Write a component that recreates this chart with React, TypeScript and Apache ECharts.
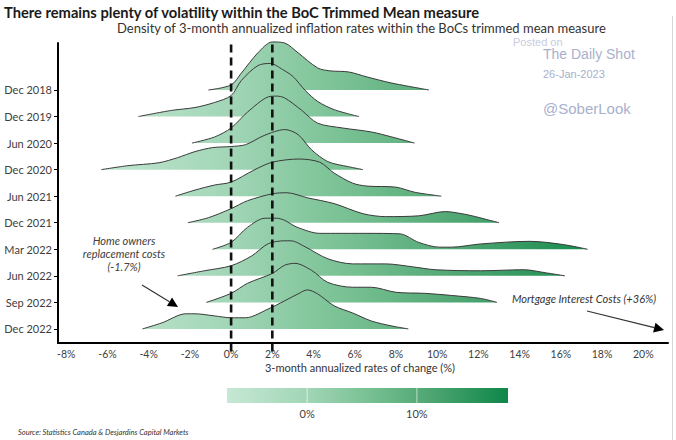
import React, { useEffect, useRef } from "react";
import * as echarts from "echarts";

// ---- Data (x = 3-month annualized rate %, d = density) ----
const ROW_LABELS = ["Dec 2018", "Dec 2019", "Jun 2020", "Dec 2020", "Jun 2021", "Dec 2021", "Mar 2022", "Jun 2022", "Sep 2022", "Dec 2022"];

const dec2018 = [[-1.1, 0], [0, 0.019], [0.5, 0.064], [1.3, 0.14], [2.0, 0.181], [2.6, 0.177], [3.25, 0.14], [4.2, 0.083], [4.8, 0.072], [5.7, 0.068], [6.6, 0.049], [7.8, 0.026], [9.6, 0]];
const dec2019 = [[-4.5, 0], [-2.9, 0.023], [-1.75, 0.034], [-0.8, 0.053], [0, 0.079], [0.5, 0.136], [1.3, 0.192], [1.9, 0.2], [2.5, 0.177], [3.0, 0.151], [3.6, 0.098], [4.2, 0.057], [5.0, 0.026], [6.2, 0]];
const jun2020 = [[-1.9, 0], [-0.8, 0.023], [0, 0.057], [0.8, 0.117], [1.8, 0.174], [2.2, 0.177], [2.6, 0.17], [3.4, 0.125], [4.2, 0.075], [5.4, 0.057], [6.8, 0.042], [7.8, 0.023], [8.9, 0]];
const dec2020 = [[-6.3, 0], [-5.0, 0.015], [-3.5, 0.026], [-2.6, 0.045], [-1.75, 0.068], [-0.9, 0.083], [0, 0.087], [0.7, 0.094], [1.5, 0.125], [2.1, 0.143], [2.6, 0.151], [3.25, 0.132], [3.9, 0.075], [4.7, 0.03], [5.7, 0.011], [6.4, 0]];
const jun2021 = [[-2.7, 0], [-1.75, 0.023], [-0.8, 0.042], [0, 0.053], [1.1, 0.098], [2.0, 0.128], [3.3, 0.14], [4.3, 0.128], [5.0, 0.087], [5.9, 0.049], [6.6, 0.038], [8.0, 0.034], [8.9, 0.015], [10.2, 0]];
const dec2021 = [[-2.1, 0], [-1.1, 0.019], [0, 0.053], [0.8, 0.083], [2.0, 0.109], [2.7, 0.113], [3.7, 0.094], [5.0, 0.072], [6.4, 0.034], [7.5, 0.023], [9.1, 0.026], [10.4, 0.042], [11.2, 0.034], [11.7, 0.026], [13.0, 0]];
const mar2022 = [[-0.9, 0], [0, 0.026], [0.8, 0.083], [1.65, 0.117], [2.2, 0.117], [2.6, 0.109], [3.2, 0.083], [4.3, 0.06], [5.0, 0.06], [6.6, 0.06], [8.2, 0.058], [9.1, 0.026], [10.1, 0.008], [10.7, 0.008], [12.1, 0.02], [14.5, 0.03], [16.1, 0.018], [17.3, 0]];
const jun2022 = [[-2.6, 0], [-1.3, 0.019], [0, 0.038], [1.0, 0.075], [1.8, 0.121], [2.6, 0.132], [2.9, 0.132], [3.6, 0.109], [4.7, 0.064], [5.9, 0.045], [7.5, 0.045], [8.8, 0.034], [9.9, 0.023], [12.1, 0.019], [14.2, 0.023], [15.3, 0.011], [16.2, 0]];
const sep2022 = [[-1.2, 0], [0, 0.034], [0.8, 0.072], [2.0, 0.109], [2.6, 0.14], [3.1, 0.147], [3.9, 0.121], [4.7, 0.075], [5.9, 0.057], [6.8, 0.057], [8.0, 0.038], [9.4, 0.034], [10.7, 0.026], [12.1, 0.015], [12.9, 0]];
const dec2022 = [[-4.3, 0], [-3.35, 0.023], [-2.2, 0.057], [-1.75, 0.057], [-0.8, 0.049], [0, 0.042], [0.7, 0.042], [1.8, 0.075], [2.6, 0.106], [3.25, 0.132], [3.7, 0.147], [4.2, 0.132], [5.0, 0.087], [5.9, 0.06], [6.8, 0.03], [7.8, 0.011], [8.6, 0]];

const ROW_DATA = [dec2018, dec2019, jun2020, dec2020, jun2021, dec2021, mar2022, jun2022, sep2022, dec2022];

const X_TICKS = [-8, -6, -4, -2, 0, 2, 4, 6, 8, 10, 12, 14, 16, 18, 20];
const REF_LINES = [0, 2];
const COLORBAR_TICKS = [0, 10];

// ---- Layout / style constants ----
const W = 676;
const H = 440;
const GRID = { left: 58, right: 8, top: 43, bottom: 97 };
const X_MIN = -8.4;
const X_MAX = 21.2;
const Y_MIN = -0.53;
const Y_MAX = 10.77;
const ROW_SCALE = 10; // rows per density unit
const CB_MIN = -7.3;
const CB_MAX = 18.3;
const CB = { x: 227, y: 388, w: 281, h: 15 };
const FONT = "Lato, 'Open Sans', sans-serif";
const WM_FONT = "'Liberation Sans', Arial, sans-serif";

const STOPS = [
  { offset: 0, color: "#c6e8d4" },
  { offset: 0.28, color: "#a2d6b7" },
  { offset: 0.5, color: "#79c194" },
  { offset: 0.72, color: "#4fa672" },
  { offset: 1, color: "#0e8749" },
];

const xPix = (v: number) => GRID.left + ((v - X_MIN) / (X_MAX - X_MIN)) * (W - GRID.left - GRID.right);
const cbPix = (v: number) => CB.x + ((v - CB_MIN) / (CB_MAX - CB_MIN)) * CB.w;

export default function App() {
  const ref = useRef<HTMLDivElement>(null);
  useEffect(() => {
    document.body.style.margin = "0";
    const chart = echarts.init(ref.current!, undefined, { renderer: "svg" });
    const n = ROW_LABELS.length;
    const fillGrad = new echarts.graphic.LinearGradient(xPix(CB_MIN), 0, xPix(CB_MAX), 0, STOPS, true);

    const ridgeSeries = ROW_DATA.map((pts, i) => {
      const base = n - 1 - i;
      return {
        type: "line",
        name: ROW_LABELS[i],
        data: pts.map(([x, d]) => [x, base + d * ROW_SCALE]),
        smooth: 0.3,
        symbol: "none",
        clip: false,
        silent: true,
        lineStyle: { color: "#3a3a3a", width: 1 },
        areaStyle: { origin: base, color: fillGrad, opacity: 1 },
        z: 2,
      };
    });

    const refSeries = REF_LINES.map((v) => ({
      type: "line",
      data: [[v, -0.85], [v, Y_MAX]],
      symbol: "none",
      clip: false,
      silent: true,
      lineStyle: { color: "#111", width: 2.6, type: [8, 5] },
      z: 5,
    }));

    const txt = (text: string, x: number, y: number, font: string, fill: string, align = "left", z = 20) => ({
      type: "text",
      x,
      y,
      z,
      silent: true,
      style: { text, font, fill, align, verticalAlign: "middle", textAlign: align, textVerticalAlign: "middle" },
    });

    const arrow = (x1: number, y1: number, x2: number, y2: number) => {
      const dx = x2 - x1, dy = y2 - y1;
      const L = Math.hypot(dx, dy);
      const ux = dx / L, uy = dy / L;
      const hl = 10, hw = 5;
      const bx = x2 - ux * hl, by = y2 - uy * hl;
      return [
        { type: "line", z: 20, silent: true, shape: { x1, y1, x2: bx, y2: by }, style: { stroke: "#333", lineWidth: 1.2 } },
        { type: "polygon", z: 20, silent: true, shape: { points: [[x2, y2], [bx - uy * hw, by + ux * hw], [bx + uy * hw, by - ux * hw]] }, style: { fill: "#000" } },
      ];
    };

    const graphic: any[] = [
      txt("Posted on", 513, 42, `11px ${WM_FONT}`, "#c8cce0", "left", 17),
      { type: "rect", z: 18, silent: true, shape: { x: 500, y: 18, width: 110, height: 19 }, style: { fill: "#fff" } },
      txt("There remains plenty of volatility within the BoC Trimmed Mean measure", 4, 12, `bold 14.7px ${FONT}`, "#1a1a1a"),
      txt("Density of 3-month annualized inflation rates within the BoCs trimmed mean measure", 117, 28, `13px ${FONT}`, "#333"),
      txt("The Daily Shot", 543, 53.5, `14px ${WM_FONT}`, "#a9b0cc"),
      txt("26-Jan-2023", 543, 74, `11px ${WM_FONT}`, "#a9b0cc"),
      txt("@SoberLook", 543, 108, `15px ${WM_FONT}`, "#a9b0cc"),
      txt("3-month annualized rates of change (%)", 360, 367, `11px ${FONT}`, "#333", "center"),
      txt("Home owners", 124, 240, `italic 11px ${FONT}`, "#404040", "center"),
      txt("replacement costs", 124, 253, `italic 11px ${FONT}`, "#404040", "center"),
      txt("(-1.7%)", 124, 266, `italic 11px ${FONT}`, "#404040", "center"),
      ...arrow(142, 285, 178, 307),
      txt("Mortgage Interest Costs (+36%)", 584, 298, `italic 11px ${FONT}`, "#333", "center"),
      ...arrow(587, 311, 664, 330),
      {
        type: "rect",
        z: 10,
        silent: true,
        shape: { x: CB.x, y: CB.y, width: CB.w, height: CB.h },
        style: { fill: new echarts.graphic.LinearGradient(0, 0, 1, 0, STOPS) },
      },
      ...COLORBAR_TICKS.map((v) => ({
        type: "line",
        z: 11,
        silent: true,
        shape: { x1: cbPix(v), y1: CB.y, x2: cbPix(v), y2: CB.y + CB.h },
        style: { stroke: "rgba(255,255,255,0.6)", lineWidth: 1 },
      })),
      ...COLORBAR_TICKS.map((v) => txt(`${v}%`, cbPix(v), 413, `11px ${FONT}`, "#404040", "center")),
      txt("Source: Statistics Canada & Desjardins Capital Markets", 18, 432, `italic 7.5px ${FONT}`, "#333"),
      { type: "line", z: 1, silent: true, shape: { x1: 672.5, y1: 16, x2: 672.5, y2: 440 }, style: { stroke: "#d6d6d6", lineWidth: 1 } },
    ];

    chart.setOption({
      animation: false,
      backgroundColor: "#fff",
      grid: { left: GRID.left, right: GRID.right, top: GRID.top, bottom: GRID.bottom, containLabel: false },
      xAxis: {
        type: "value",
        min: X_MIN,
        max: X_MAX,
        axisLine: { show: true, onZero: false, lineStyle: { color: "#000", width: 2 } },
        axisTick: { show: false },
        splitLine: { show: false },
        axisLabel: {
          customValues: X_TICKS,
          formatter: (v: number) => `${v}%`,
          color: "#404040",
          fontSize: 10.5,
          fontFamily: FONT,
          margin: 5,
        },
      },
      yAxis: {
        type: "value",
        min: Y_MIN,
        max: Y_MAX,
        axisLine: { show: true, onZero: false, lineStyle: { color: "#000", width: 2 } },
        axisTick: {
          show: true,
          customValues: ROW_LABELS.map((_, i) => n - 1 - i),
          length: 4,
          lineStyle: { color: "#000", width: 1 },
        },
        splitLine: { show: false },
        axisLabel: {
          customValues: ROW_LABELS.map((_, i) => n - 1 - i),
          formatter: (v: number) => ROW_LABELS[n - 1 - Math.round(v)] ?? "",
          color: "#404040",
          fontSize: 11,
          fontFamily: FONT,
          margin: 6,
        },
      },
      series: [...ridgeSeries, ...refSeries],
      graphic,
    });
    return () => chart.dispose();
  }, []);
  return <div ref={ref} style={{ position: "fixed", left: 0, top: 0, width: W, height: H }} />;
}
